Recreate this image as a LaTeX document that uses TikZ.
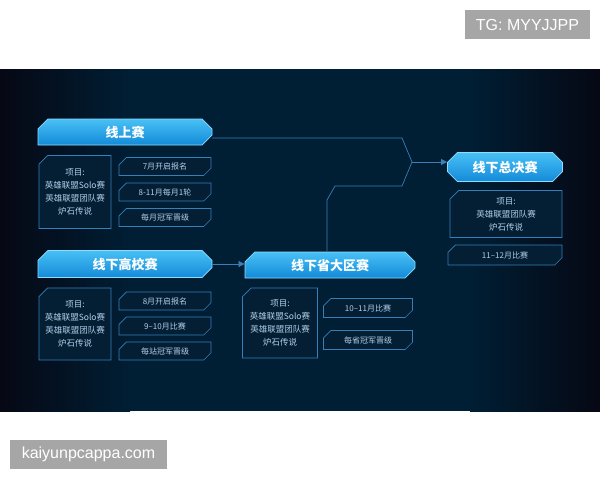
\documentclass[tikz,border=0pt]{standalone}
\usepackage{fontspec}
\setmainfont{Noto Sans CJK SC}
\newfontfamily\wmfont{Liberation Sans}
\usetikzlibrary{shapes.misc,arrows.meta}

\begin{document}
\begin{tikzpicture}[x=1pt,y=-1pt,
    header/.style={chamfered rectangle, chamfered rectangle xsep=7pt,
        chamfered rectangle corners={north west,north east,south east},
        inner sep=0pt, draw=headline, line width=0.8pt,
        top color=headtop, bottom color=headbot, text=white,
        font=\bfseries\fontsize{13}{13}\selectfont},
    infobox/.style={chamfered rectangle, chamfered rectangle xsep=5pt,
        chamfered rectangle corners=north west, inner sep=0pt,
        draw=boxline, line width=0.6pt, fill=boxfill, text=infotext,
        align=center, font=\fontsize{8.5}{13}\selectfont},
    tag/.style={chamfered rectangle, chamfered rectangle xsep=6pt,
        chamfered rectangle corners={north west,south east}, inner sep=0pt,
        minimum height=18pt, draw=boxline, line width=0.6pt, fill=boxfill,
        text=infotext, font=\fontsize{8}{8}\selectfont},
    link/.style={draw=linkcolor, line width=0.7pt},
    watermark/.style={fill=markgray, text=white, inner sep=0pt,
        minimum height=29pt, font=\wmfont\fontsize{16}{16}\selectfont}]
        % Define colors
        \definecolor{panelmid}{RGB}{0,30,52}
        \definecolor{paneledge}{RGB}{6,8,20}
        \definecolor{headtop}{RGB}{72,192,245}
        \definecolor{headbot}{RGB}{19,138,216}
        \definecolor{headline}{RGB}{143,220,255}
        \definecolor{boxline}{RGB}{52,128,186}
        \definecolor{boxfill}{RGB}{4,30,52}
        \definecolor{infotext}{RGB}{176,208,234}
        \definecolor{linkcolor}{RGB}{58,127,184}
        \definecolor{markgray}{RGB}{166,166,166}

        % Page and dark panel
        \useasboundingbox[fill=white] (0,0) rectangle (600,480);
        \fill[panelmid] (0,69) rectangle (600,411);
        \shade[left color=paneledge, right color=panelmid] (0,69) rectangle (130,411);
        \shade[left color=panelmid, right color=paneledge] (470,69) rectangle (600,411);

        % Online stage
        \node[header, minimum width=174pt, minimum height=26pt] (online) at (125,132) {线上赛};
        \node[infobox, minimum width=72pt, minimum height=73pt] (info1) at (75,192)
            {项目:\\英雄联盟Solo赛\\英雄联盟团队赛\\炉石传说};
        \foreach \t [count=\i] in {7月开启报名,8-11月每月1轮,每月冠军晋级}
            \node[tag, minimum width=92pt] (tag1\i) at (165,141+25.5*\i) {\t};

        % College stage
        \node[header, minimum width=174pt, minimum height=27pt] (college) at (125,264) {线下高校赛};
        \node[infobox, minimum width=72pt, minimum height=72pt] (info2) at (75,324)
            {项目:\\英雄联盟Solo赛\\英雄联盟团队赛\\炉石传说};
        \foreach \t [count=\i] in {8月开启报名,9–10月比赛,每站冠军晋级}
            \node[tag, minimum width=92pt] (tag2\i) at (165,276+25*\i) {\t};

        % Province stage
        \node[header, minimum width=170pt, minimum height=26pt] (province) at (330,265) {线下省大区赛};
        \node[infobox, minimum width=75pt, minimum height=70pt] (info3) at (280,323)
            {项目:\\英雄联盟Solo赛\\英雄联盟团队赛\\炉石传说};
        \foreach \t [count=\i] in {10–11月比赛,每省冠军晋级}
            \node[tag, minimum width=89pt, minimum height=19pt] (tag3\i) at (368,276+32*\i) {\t};

        % Final stage
        \node[header, minimum width=115pt, minimum height=29pt,
            chamfered rectangle corners={north west,south west,north east,south east}]
            (final) at (505,167) {线下总决赛};
        \node[infobox, minimum width=112pt, minimum height=47pt] (info4) at (506,214)
            {项目:\\英雄联盟团队赛\\炉石传说};
        \node[tag, minimum width=114pt, minimum height=20pt] (tag41) at (505,255) {11–12月比赛};

        % Connectors
        \coordinate (j1) at (402,138);
        \coordinate (jm) at (412,162);
        \coordinate (j2) at (402,186);
        \coordinate (j3) at (335,186);
        \coordinate (j4) at (327,200);
        \draw[link] (online.east |- j1) -- (j1) -- (jm) -- (j2) -- (j3) -- (j4) -- (j4 |- province.north);
        \draw[link, -{Triangle[length=6pt,width=6pt]}] (jm) -- (jm -| final.west);
        \draw[link, -{Triangle[length=6pt,width=6pt]}] (college.east) -- (college.east -| province.west);

        % Watermarks
        \node[watermark, minimum width=125pt] (mark1) at (527.5,24.5) {TG: MYYJJPP};
        \node[watermark, minimum width=157pt] (mark2) at (88.5,454.5) {kaiyunpcappa.com};

    \end{tikzpicture}
\end{document}
